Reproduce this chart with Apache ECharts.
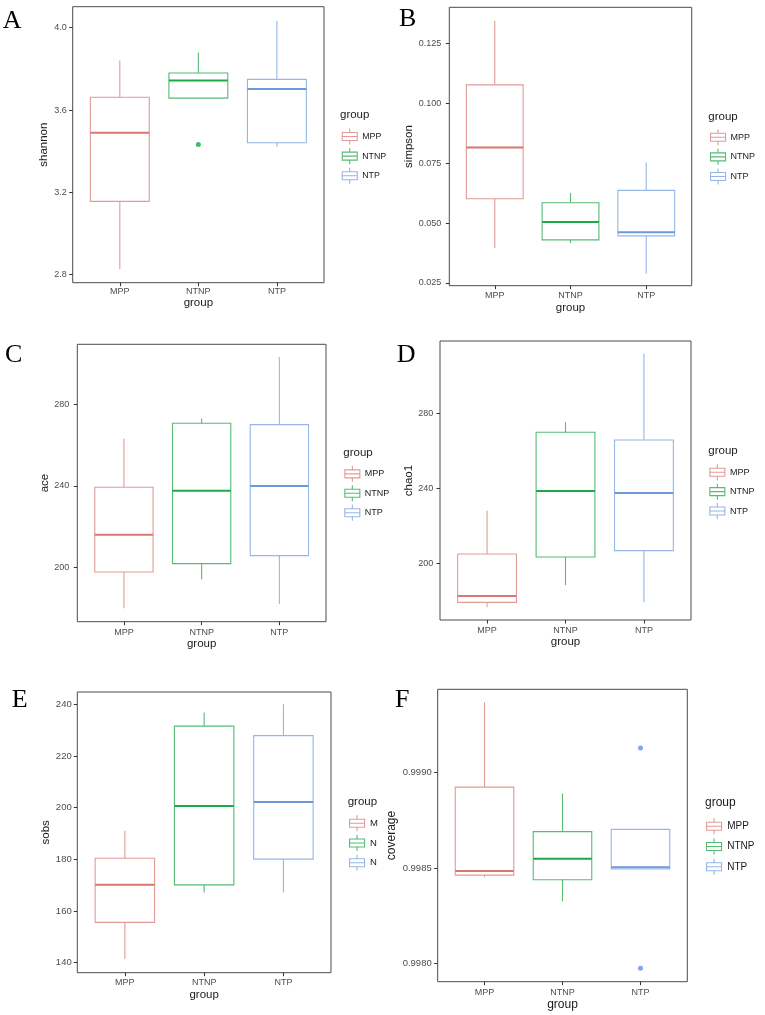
<!DOCTYPE html>
<html><head><meta charset="utf-8">
<script src="https://cdn.jsdelivr.net/npm/echarts@6/dist/echarts.min.js"></script>
<style>html,body{margin:0;padding:0;background:#fff}#c{width:765px;height:1015px}</style>
</head><body><div id="c"></div>
<script>
// ---------- data (min, Q1, median, Q3, max) per group ----------
const groups = ['MPP', 'NTNP', 'NTP'];

const shannon = [[2.828, 3.156, 3.490, 3.662, 3.840], [3.658, 3.658, 3.744, 3.780, 3.879], [3.422, 3.441, 3.702, 3.749, 4.034]];
const shannonOutliers = [[], [3.433], []];
const shannonTicks = [2.8, 3.2, 3.6, 4.0];

const simpson = [[0.0396, 0.0602, 0.0816, 0.1078, 0.1346], [0.0417, 0.0430, 0.0505, 0.0585, 0.0626], [0.0290, 0.0447, 0.0462, 0.0637, 0.0753]];
const simpsonOutliers = [[], [], []];
const simpsonTicks = [0.025, 0.050, 0.075, 0.100, 0.125];

const ace = [[179.9, 197.7, 216.0, 239.3, 263.0], [194.1, 201.8, 237.5, 270.7, 273.0], [182.0, 205.7, 239.9, 270.0, 303.2]];
const aceOutliers = [[], [], []];
const aceTicks = [200, 240, 280];

const chao1 = [[176.8, 179.4, 182.8, 205.1, 228.2], [188.6, 203.5, 238.7, 269.9, 275.2], [179.4, 206.9, 237.6, 265.8, 311.9]];
const chao1Outliers = [[], [], []];
const chao1Ticks = [200, 240, 280];

const sobs = [[141.4, 155.6, 170.2, 180.4, 191.1], [167.2, 170.1, 200.7, 231.6, 236.9], [167.2, 180.1, 202.2, 227.9, 240.1]];
const sobsOutliers = [[], [], []];
const sobsTicks = [140, 160, 180, 200, 220, 240];

const coverage = [[0.998451, 0.998463, 0.998484, 0.998923, 0.999366], [0.998326, 0.998439, 0.998549, 0.998690, 0.998890], [0.998495, 0.998495, 0.998504, 0.998702, 0.998702]];
const coverageOutliers = [[], [], [0.999127, 0.997976]];
const coverageTicks = [0.9980, 0.9985, 0.9990];

// ---------- styles ----------
const lineColors = ['#E09C97', '#55BC76', '#95B6E6'];
const medianColors = ['#D9766F', '#1DA84A', '#6D97DF'];
const pointColors = ['#E8736B', '#16A940', '#5E90EE'];
const iconPath = 'path://M0,4H15V12H0Z M0,8H15 M7.5,0V4 M7.5,12V16';

const panels = [
  {letter: 'A', name: 'shannon', stats: shannon, out: shannonOutliers, ticks: shannonTicks, dec: 1,
   grid: [72.7, 6.7, 251.3, 276], y: [2.761, 4.102], letterPos: [2.7, 21],
   yGap: 20.5, xGap: 14.6, xMargin: 4.5, yMargin: 6,
   legend: [341.7, 128, 2.5, 15], legTitle: [340, 108.9],
   fs: {tick: 9, cat: 9, title: 11.5, leg: 8.8, legTitle: 11.5}, short: false},
  {letter: 'B', name: 'simpson', stats: simpson, out: simpsonOutliers, ticks: simpsonTicks, dec: 3,
   grid: [449.3, 7.3, 242.4, 278.4], y: [0.02387, 0.1402], letterPos: [399, 19.2],
   yGap: 31, xGap: 15.9, xMargin: 5.8, yMargin: 8,
   legend: [710, 128.7, 2.5, 15], legTitle: [708.3, 110.6],
   fs: {tick: 9, cat: 9, title: 11.5, leg: 9, legTitle: 11.5}, short: false},
  {letter: 'C', name: 'ace', stats: ace, out: aceOutliers, ticks: aceTicks, dec: 0,
   grid: [77.3, 344.3, 248.7, 277.4], y: [173.3, 309.4], letterPos: [5, 355],
   yGap: 23.5, xGap: 15.6, xMargin: 6, yMargin: 8,
   legend: [344.3, 465.3, 2.35, 15], legTitle: [343.3, 447.3],
   fs: {tick: 9, cat: 9, title: 11.5, leg: 9, legTitle: 11.5}, short: false},
  {letter: 'D', name: 'chao1', stats: chao1, out: chao1Outliers, ticks: chao1Ticks, dec: 0,
   grid: [440, 341, 251, 279], y: [170.0, 318.5], letterPos: [396.7, 355],
   yGap: 23.8, xGap: 15.6, xMargin: 6.2, yMargin: 6.7,
   legend: [709.3, 463.7, 2.3, 15.5], legTitle: [708.3, 444.6],
   fs: {tick: 9, cat: 9, title: 11.5, leg: 9, legTitle: 11.5}, short: false},
  {letter: 'E', name: 'sobs', stats: sobs, out: sobsOutliers, ticks: sobsTicks, dec: 0,
   grid: [77.3, 692, 253.7, 280.7], y: [136.1, 244.8], letterPos: [11.7, 700.5],
   yGap: 23.5, xGap: 16.3, xMargin: 5.5, yMargin: 5.6,
   legend: [349, 814.7, 2.65, 16], legTitle: [347.7, 795.6],
   fs: {tick: 9.5, cat: 9, title: 11.5, leg: 9.5, legTitle: 11.5}, short: true},
  {letter: 'F', name: 'coverage', stats: coverage, out: coverageOutliers, ticks: coverageTicks, dec: 4,
   grid: [437.7, 689.3, 249.6, 292.4], y: [0.9979059, 0.999434], letterPos: [395, 699.8],
   yGap: 40.5, xGap: 17, xMargin: 5.9, yMargin: 6,
   legend: [706, 817.7, 3.15, 16.3], legTitle: [705, 797],
   fs: {tick: 9.5, cat: 9, title: 12, leg: 10, legTitle: 12}, short: false}
];

function makeBox(lineColor, medColor) {
  return function (params, api) {
    const x = api.value(0);
    const v = [1, 2, 3, 4, 5].map(function (i) { return api.value(i); });
    const pMin = api.coord([x, v[0]]);
    const pQ1 = api.coord([x, v[1]]);
    const pMed = api.coord([x, v[2]]);
    const pQ3 = api.coord([x, v[3]]);
    const pMax = api.coord([x, v[4]]);
    const w = api.size([0.75, 0])[0];
    const cx = pMed[0];
    const left = cx - w / 2;
    const ls = {stroke: lineColor, lineWidth: 1.1, fill: null};
    return {
      type: 'group',
      children: [
        {type: 'line', shape: {x1: cx, y1: pMax[1], x2: cx, y2: pQ3[1]}, style: ls},
        {type: 'line', shape: {x1: cx, y1: pQ1[1], x2: cx, y2: pMin[1]}, style: ls},
        {type: 'rect', shape: {x: left, y: pQ3[1], width: w, height: pQ1[1] - pQ3[1]}, style: ls},
        {type: 'line', shape: {x1: left, y1: pMed[1], x2: left + w, y2: pMed[1]}, style: {stroke: medColor, lineWidth: 2}}
      ]
    };
  };
}

const option = {
  animation: false,
  backgroundColor: '#fff',
  textStyle: {fontFamily: '"Liberation Sans", Arial, sans-serif'},
  grid: [], xAxis: [], yAxis: [], series: [], legend: [], title: []
};

panels.forEach(function (p, i) {
  option.grid.push({
    left: p.grid[0], top: p.grid[1], width: p.grid[2], height: p.grid[3],
    show: true, borderColor: '#4a4a4a', borderWidth: 1, backgroundColor: 'transparent',
    containLabel: false, outerBoundsMode: 'none'
  });
  option.xAxis.push({
    type: 'value', gridIndex: i, min: 0.4, max: 3.6,
    name: 'group', nameLocation: 'middle', nameGap: p.xGap,
    nameTextStyle: {fontSize: p.fs.title, color: '#1a1a1a'},
    axisLine: {show: false}, splitLine: {show: false},
    axisTick: {show: true, customValues: [1, 2, 3], length: 3.5, lineStyle: {color: '#333', width: 1}},
    axisLabel: {customValues: [1, 2, 3], formatter: function (v) { return groups[Math.round(v) - 1]; },
      margin: p.xMargin, fontSize: p.fs.cat, color: '#4d4d4d'}
  });
  option.yAxis.push({
    type: 'value', gridIndex: i, min: p.y[0], max: p.y[1],
    name: p.name, nameLocation: 'middle', nameGap: p.yGap,
    nameTextStyle: {fontSize: p.fs.title, color: '#1a1a1a'},
    axisLine: {show: false}, splitLine: {show: false},
    axisTick: {show: true, customValues: p.ticks, length: 3.5, lineStyle: {color: '#333', width: 1}},
    axisLabel: {customValues: p.ticks, formatter: function (v) { return Number(v).toFixed(p.dec); },
      margin: p.yMargin, fontSize: p.fs.tick, color: '#4d4d4d'}
  });
  groups.forEach(function (g, k) {
    option.series.push({
      type: 'custom', name: g, xAxisIndex: i, yAxisIndex: i, silent: true,
      data: [[k + 1].concat(p.stats[k])],
      encode: {x: 0, y: [1, 2, 3, 4, 5]},
      itemStyle: {color: lineColors[k]},
      renderItem: makeBox(lineColors[k], medianColors[k])
    });
    if (p.out[k].length) {
      option.series.push({
        type: 'scatter', name: g + ' outlier', xAxisIndex: i, yAxisIndex: i, silent: true,
        data: p.out[k].map(function (v) { return [k + 1, v]; }),
        symbol: 'circle', symbolSize: 5, itemStyle: {color: pointColors[k]}
      });
    }
  });
  const leg = {
    left: p.legend[0], top: p.legend[1], orient: 'vertical', padding: 0,
    itemWidth: p.legend[3], itemHeight: 16, itemGap: p.legend[2], selectedMode: false,
    textStyle: {fontSize: p.fs.leg, color: '#1a1a1a', padding: 0},
    data: groups.map(function (g, k) {
      return {name: g, icon: iconPath, itemStyle: {color: '#fff', borderColor: lineColors[k], borderWidth: 1.1}};
    })
  };
  if (p.short) leg.formatter = function (n) { return n.charAt(0); };
  option.legend.push(leg);
  option.title.push({
    text: p.letter, left: p.letterPos[0], top: p.letterPos[1] - 13, padding: 0,
    textStyle: {fontFamily: '"Liberation Serif", "Times New Roman", serif', fontSize: 26, fontWeight: 'normal', color: '#000'}
  });
  option.title.push({
    text: 'group', left: p.legTitle[0], top: p.legTitle[1], padding: 0,
    textStyle: {fontSize: p.fs.legTitle, fontWeight: 'normal', color: '#1a1a1a'}
  });
});

const chart = echarts.init(document.getElementById('c'), null, {renderer: 'canvas'});
chart.setOption(option);
</script>
</body></html>
